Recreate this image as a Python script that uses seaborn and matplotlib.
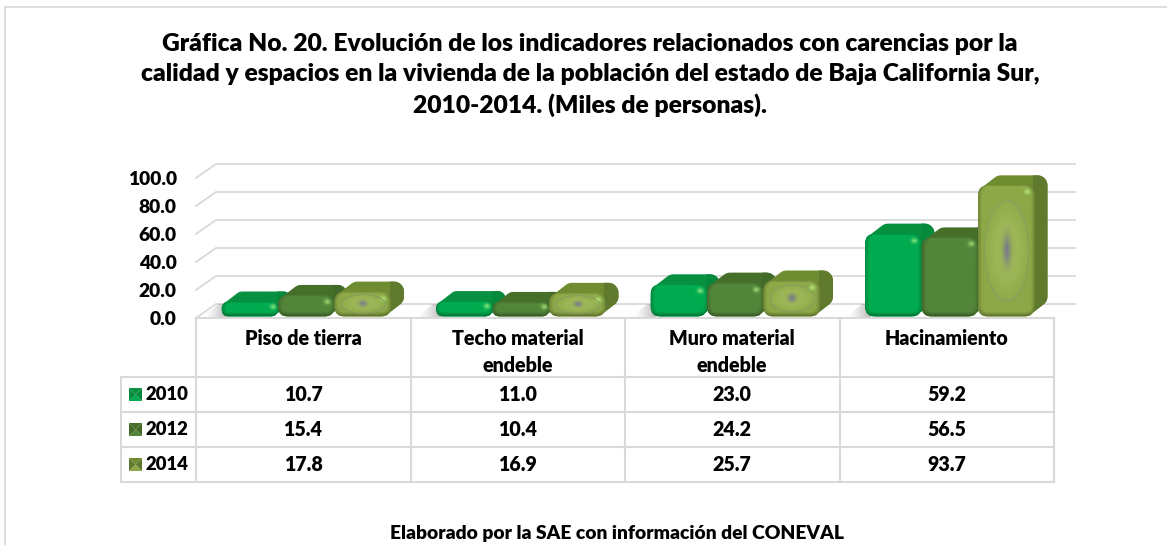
import numpy as np
import pandas as pd
import seaborn as sns
import matplotlib.pyplot as plt
from matplotlib.colors import to_rgb
from matplotlib.patches import FancyBboxPatch, Polygon, Rectangle, Ellipse

W, H = 1167, 545

# datos
categorias = ['Piso de tierra', 'Techo material\nendeble', 'Muro material\nendeble', 'Hacinamiento']
anios = ['2010', '2012', '2014']
valores_2010 = [10.7, 11.0, 23.0, 59.2]
valores_2012 = [15.4, 10.4, 24.2, 56.5]
valores_2014 = [17.8, 16.9, 25.7, 93.7]
ticks_y = [0, 20, 40, 60, 80, 100]
titulo = ('Gráfica No. 20. Evolución de los indicadores relacionados con carencias por la\n'
          'calidad y espacios en la vivienda de la población del estado de Baja California Sur,\n'
          '2010-2014. (Miles de personas).')
fuente = 'Elaborado por la SAE con información del CONEVAL'

# colores: frente, cara superior, cara lateral
frente = ['#00ab50', '#528539', '#8ca847']
arriba = ['#06903f', '#466f2a', '#6f8c30']
lado = ['#058a3c', '#426a28', '#5f7a2d']
GRIS = '#d9d9d9'
PESO = 'heavy'

df = pd.DataFrame({
    'categoria': categorias * 3,
    'anio': np.repeat(anios, 4),
    'valor': valores_2010 + valores_2012 + valores_2014,
})

sns.set_theme(style='white')
plt.rcParams['font.family'] = ['Lato', 'DejaVu Sans']

fig = plt.figure(figsize=(W / 100, H / 100), dpi=100)
ax = fig.add_axes([199 / W, 1 - 318 / H, 858 / W, 140 / H])
sns.barplot(data=df, x='categoria', y='valor', hue='anio', palette=frente,
            width=0.79, gap=0, saturation=1, legend=False, ax=ax)
ax.set_xlim(-0.5, 3.5)
ax.set_ylim(0, 100)
ax.set_yticks(ticks_y)
ax.set_yticklabels([f'{t:.1f}' for t in ticks_y], fontsize=13.8, fontweight=PESO, color='black')
ax.set_xticks([])
ax.set_xlabel('')
ax.set_ylabel('')
ax.tick_params(axis='y', length=0, pad=16)
ax.patch.set_alpha(0)
sns.despine(ax=ax, left=True, bottom=True)

# capa en pixeles para el efecto 3D y la tabla
capa = fig.add_axes([0, 0, 1, 1], zorder=5)
capa.set_xlim(0, W)
capa.set_ylim(H, 0)
capa.axis('off')
capa.set_autoscale_on(False)


def a_pixel(x, y):
    px, py = ax.transData.transform((x, y))
    return px, H - py


def linea(xs, ys, lw=1.2, z=1):
    capa.plot(xs, ys, color=GRIS, lw=lw, solid_capstyle='projecting', zorder=z)


# marco exterior
linea([4.5, W], [6.5, 6.5])
linea([4.5, 4.5], [6.5, H])

# pared del fondo y piso
for t in ticks_y:
    _, y = a_pixel(0, t)
    linea([196, 216, 1075], [y, y - 14, y - 14], lw=1.3)


def rect_redondeado(x0, y0, x1, y1, r, n=10):
    pts = []
    for cx, cy, a in [(x1 - r, y0 + r, -90), (x1 - r, y1 - r, 0), (x0 + r, y1 - r, 90), (x0 + r, y0 + r, 180)]:
        ang = np.radians(np.linspace(a, a + 90, n))
        pts.append(np.c_[cx + r * np.cos(ang), cy + r * np.sin(ang)])
    return np.vstack(pts)


def envolvente(pts):
    pts = sorted(map(tuple, pts))
    def media(seq):
        h = []
        for p in seq:
            while len(h) > 1 and (h[-1][0] - h[-2][0]) * (p[1] - h[-2][1]) - (h[-1][1] - h[-2][1]) * (p[0] - h[-2][0]) <= 0:
                h.pop()
            h.append(p)
        return h[:-1]
    return np.array(media(pts) + media(pts[::-1]))


def textura(x0, y0, x1, y1, r, color, disco):
    # sombreado de la cara frontal, con brillo y disco opcional
    xs = np.linspace(x0, x1, max(int((x1 - x0) * 3), 4))
    ys = np.linspace(y0, y1, max(int((y1 - y0) * 3), 4))
    X, Y = np.meshgrid(xs, ys)
    qx = np.abs(X - (x0 + x1) / 2) - ((x1 - x0) / 2 - r)
    qy = np.abs(Y - (y0 + y1) / 2) - ((y1 - y0) / 2 - r)
    d = r - np.hypot(np.maximum(qx, 0), np.maximum(qy, 0)) - np.minimum(np.maximum(qx, qy), 0)
    base = np.array(to_rgb(color))
    k = 0.8 + 0.2 * np.clip(d / 4, 0, 1)
    # mas oscuro abajo, mas claro arriba
    k = k + 0.16 * np.clip(1 - (Y - y0) / 5, 0, 1) * np.clip(d / 3, 0, 1)
    k = k - 0.12 * np.clip(1 - (y1 - Y) / 4, 0, 1)
    img = base[None, None, :] * k[..., None]
    if disco:
        cx, cy = (x0 + x1) / 2 + 0.5, (y0 + y1) / 2
        rr = np.hypot((X - cx) / (0.39 * (x1 - x0)), (Y - cy) / (0.38 * (y1 - y0)))
        claro = np.array(to_rgb('#a0b95a'))
        m = np.clip(0.85 * np.exp(-((rr - 0.45) / 0.45) ** 2), 0, 1) * (rr < 1)
        img = img * (1 - m[..., None]) + claro * m[..., None]
        g = np.exp(-(((X - cx) / (0.065 * (x1 - x0))) ** 2 + ((Y - cy) / (0.11 * (y1 - y0))) ** 2))
        img = img * (1 - g[..., None]) + np.array(to_rgb('#7c7d8c')) * g[..., None]
    # brillo esquina superior derecha
    bx, by = x1 - 0.75 * r, y0 + 0.75 * r
    b = np.exp(-(((X - bx) / 3.0) ** 2 + ((Y - by) / 2.5) ** 2))
    img = img * (1 - 0.65 * b[..., None]) + np.array([0.75, 1, 0.55]) * 0.65 * b[..., None]
    return np.clip(img, 0, 1)


DX, DY = 13, -10

# sombra sobre el piso a la izquierda de cada grupo
for barra in ax.containers[0]:
    xb, _ = a_pixel(barra.get_x(), 0)
    im = capa.imshow(np.full((1, 40, 3), 0.55),
                     extent=(xb - 19, xb + 6, 317, 304), aspect='auto', zorder=2,
                     alpha=np.linspace(0, 0.75, 40)[None, :] ** 1.5)
    tri = Polygon([(xb - 19, 317), (xb - 3, 304), (xb + 6, 304), (xb + 6, 317)], transform=capa.transData)
    im.set_clip_path(tri)

# barras en 3D, a partir de las barras de seaborn
for j, cont in enumerate(ax.containers):
    for barra in cont:
        x0, y_base = a_pixel(barra.get_x(), 0)
        x1, y_top = a_pixel(barra.get_x() + barra.get_width(), barra.get_height())
        y1 = y_base - 1.5
        y0 = y_top - 1.5
        r = min(10, (y1 - y0) / 2)
        z = 10 + j
        contorno = rect_redondeado(x0, y0, x1, y1, r)
        hull = envolvente(np.vstack([contorno, contorno + [DX, DY]]))
        capa.add_patch(Polygon(hull, closed=True, fc=arriba[j], ec='none', zorder=z))
        forma = Polygon(hull, closed=True, transform=capa.transData)
        sl = Rectangle((x1 - 1, y0 + DY - 2), DX + 3, y1 - y0 - DY + 4, fc=lado[j], ec='none', zorder=z)
        capa.add_patch(sl)
        sl.set_clip_path(forma)
        caja = FancyBboxPatch((x0, y0), x1 - x0, y1 - y0, boxstyle=f'round,pad=0,rounding_size={r}',
                              transform=capa.transData, fc='none', ec='none')
        barra.set_clip_path(caja)
        im = capa.imshow(textura(x0, y0, x1, y1, r, frente[j], j == 2),
                         extent=(x0, x1, y1, y0), aspect='auto', zorder=z, interpolation='bilinear')
        im.set_clip_path(caja)
        if j == 2:
            el = Ellipse(((x0 + x1) / 2 + 0.5, (y0 + y1) / 2), 0.78 * (x1 - x0), 0.76 * (y1 - y0),
                         fc='none', ec='#8a9a63', lw=0.7, zorder=z)
            capa.add_patch(el)
            el.set_clip_path(caja)

capa.set_xlim(0, W)
capa.set_ylim(H, 0)

# tabla de datos
cols = [196, 410.5, 625, 839.5, 1054]
filas = [377, 412, 447, 482]
linea([196, 1054], [318, 318], lw=1.5, z=3)
for y in filas:
    linea([121, 1054], [y, y], lw=1.5, z=3)
for x in cols:
    linea([x, x], [318, 482], lw=1.5, z=3)
linea([121, 121], [377, 482], lw=1.5, z=3)

for x, nombre in zip(cols, categorias):
    capa.text(x + 107, 329, nombre, ha='center', va='top', fontsize=14.1, fontweight=PESO,
              color='black', linespacing=1.5, zorder=20)

series = [valores_2010, valores_2012, valores_2014]
for j, (anio, vals) in enumerate(zip(anios, series)):
    yc = (filas[j] + filas[j + 1]) / 2
    x0, x1, y0, y1 = 129, 142, yc - 6.5, yc + 6.5
    xm, ym = (x0 + x1) / 2, (y0 + y1) / 2
    # cuadrito de leyenda biselado
    for pts, c in [([(x0, y0), (x1, y0), (xm, ym)], arriba[j]),
                   ([(x0, y1), (x1, y1), (xm, ym)], frente[j]),
                   ([(x0, y0), (x0, y1), (xm, ym)], lado[j]),
                   ([(x1, y0), (x1, y1), (xm, ym)], lado[j])]:
        capa.add_patch(Polygon(pts, fc=c, ec='none', zorder=4))
    capa.text(146, yc, anio, ha='left', va='center', fontsize=13.3, fontweight=PESO, color='black', zorder=20)
    for x, v in zip(cols, vals):
        capa.text(x + 107, yc, f'{v:.1f}', ha='center', va='center', fontsize=14.1, fontweight=PESO,
                  color='black', zorder=20)

capa.text(590, 33, titulo, ha='center', va='top', fontsize=17.75, fontweight=PESO, color='black',
          linespacing=1.44, zorder=20)
capa.text(617, 533, fuente, ha='center', va='center', fontsize=13.9, fontweight=PESO, color='black', zorder=20)

fig.savefig('out.png', dpi=100)
